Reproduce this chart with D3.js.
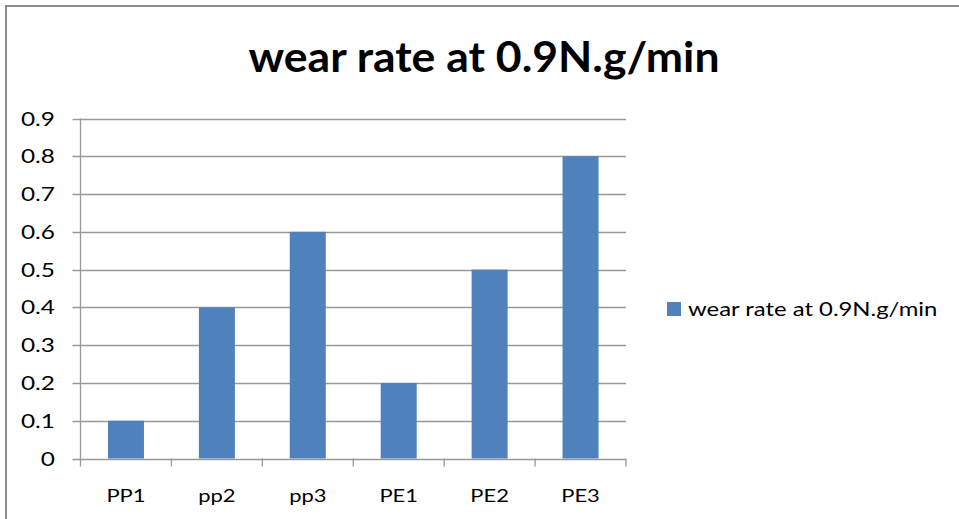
<!DOCTYPE html>
<html>
<head>
<meta charset="utf-8">
<script src="https://cdn.jsdelivr.net/npm/d3@7"></script>
<style>
  body { margin: 0; background: #fff; }
  svg text { font-family: Lato, "Open Sans", sans-serif; fill: #000; }
</style>
</head>
<body>
<div id="chart"></div>
<script>
// data
const categories = ["PP1", "pp2", "pp3", "PE1", "PE2", "PE3"];
const values = [0.1, 0.4, 0.6, 0.2, 0.5, 0.8];
const yTicks = [0, 0.1, 0.2, 0.3, 0.4, 0.5, 0.6, 0.7, 0.8, 0.9];
const seriesName = "wear rate at 0.9N.g/min";

const W = 959, H = 519;
const svg = d3.select("#chart").append("svg").attr("width", W).attr("height", H);

// the original looks horizontally stretched, so text gets a scaleX
function label(g, x, y, sx) {
    return g.append("text").attr("transform", `translate(${x},${y}) scale(${sx},1)`);
}

// outer chart border (runs off the right/bottom edge)
svg.append("rect").attr("x", 6).attr("y", 6).attr("width", 1000).attr("height", 600)
   .attr("fill", "none").attr("stroke", "#8c8c8c").attr("stroke-width", 2);

label(svg, 484, 72, 1.06).attr("text-anchor", "middle")
   .style("font-size", "42px").style("font-weight", "bold").text(seriesName);

const pLeft = 80.5, pRight = 626, pTop = 118.5, pBottom = 458.5;
const xb = d3.scaleBand().domain(categories).range([pLeft, pRight]);
const y = d3.scaleLinear().domain([0, 0.9]).range([pBottom, pTop]);

// gridlines
svg.append("g").selectAll("line").data(yTicks).enter().append("line")
   .attr("x1", pLeft - 8).attr("x2", pRight).attr("y1", d => Math.round(y(d)) + 0.5).attr("y2", d => Math.round(y(d)) + 0.5)
   .attr("stroke", "#999").attr("stroke-width", 1.3);

// bars
svg.append("g").selectAll("rect").data(values).enter().append("rect")
   .attr("x", (d, i) => xb(categories[i]) + (xb.bandwidth() - 36) / 2)
   .attr("width", 36)
   .attr("y", d => y(d)).attr("height", d => y(0) - y(d))
   .attr("fill", "#4f81bd");

// y axis
svg.append("line").attr("x1", pLeft).attr("x2", pLeft).attr("y1", pTop).attr("y2", pBottom + 1)
   .attr("stroke", "#999").attr("stroke-width", 1.3);
const yg = svg.append("g");
yTicks.forEach(d => {
    label(yg, 55, y(d) + 7, 1.22).attr("text-anchor", "end")
       .style("font-size", "20px").text(d === 0 ? "0" : d3.format(".1f")(d));
});

// x axis ticks and labels
const xTickPos = categories.map(c => xb(c)).concat([pRight]);
svg.append("g").selectAll("line").data(xTickPos).enter().append("line")
   .attr("x1", d => d).attr("x2", d => d).attr("y1", pBottom).attr("y2", pBottom + 8)
   .attr("stroke", "#999").attr("stroke-width", 1.3);
const xg = svg.append("g");
categories.forEach(c => {
    label(xg, xb(c) + xb.bandwidth() / 2, 502, 1.22).attr("text-anchor", "middle")
       .style("font-size", "18px").text(c);
});

// legend
svg.append("rect").attr("x", 667).attr("y", 302).attr("width", 14).attr("height", 14).attr("fill", "#4f81bd");
label(svg, 688, 316, 1.29).style("font-size", "18.5px").text(seriesName);
</script>
</body>
</html>
